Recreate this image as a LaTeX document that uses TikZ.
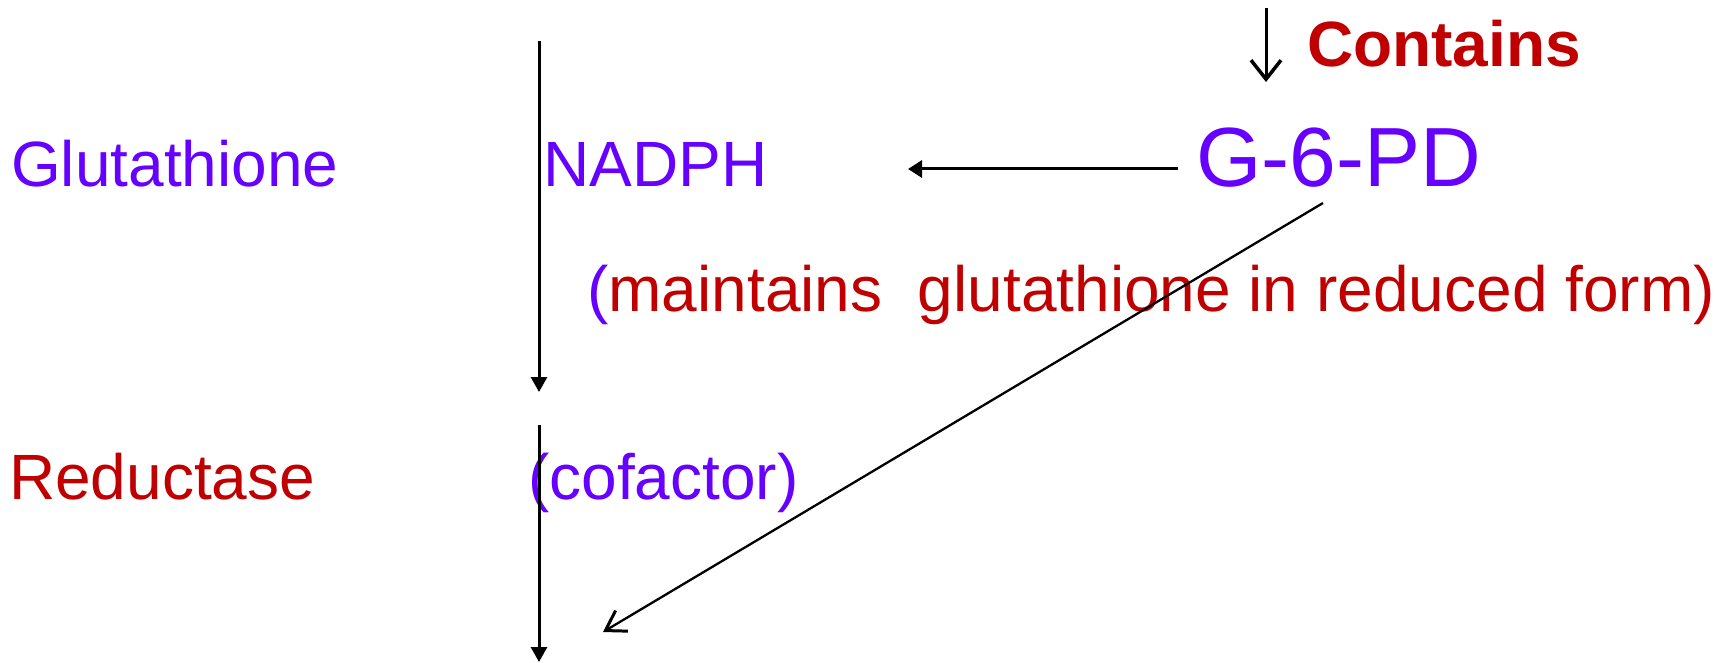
\documentclass[tikz,border=0pt]{standalone}
\usepackage{fontspec}
\setmainfont{Liberation Sans}
\usetikzlibrary{arrows.meta}
\definecolor{vio}{RGB}{102,0,255}
\definecolor{dred}{RGB}{192,0,0}
\tikzset{
  txt/.style={inner sep=0pt, anchor=base west, font=\fontsize{64}{70}\selectfont},
  big/.style={inner sep=0pt, anchor=base west, font=\fontsize{84}{90}\selectfont},
  vline/.style={line width=3pt, -{Triangle[width=16pt,length=15pt]}},
  hline/.style={line width=3pt, -{Triangle[width=17pt,length=14pt]}},
  dline/.style={line width=2.3pt, -{Straight Barb[width=24pt,length=19pt,line width=3pt]}},
  darrow/.style={line width=3pt, -{Straight Barb[width=30pt,length=19pt,line width=3.5pt]}}
}
\begin{document}
\begin{tikzpicture}[x=1pt,y=-1pt]
\path[use as bounding box] (0,0) rectangle (1726,663);
\node[txt, text=vio] (glut) at (11,187) {Glutathione};
\node[txt, text=vio] (nadph) at (543,187) {NADPH};
\node[big, text=vio] (g6pd) at (1196,187) {G-6-PD};
\node[txt] (maint) at (587,311) {\textcolor{vio}{(}\textcolor{dred}{maintains\ \ glutathione in reduced form)}};
\node[txt, text=dred] (reduct) at (9,499) {Reductase};
\node[txt, text=vio] (cofac) at (528,499) {(cofactor)};
\node[txt, text=dred, font=\fontsize{64}{70}\selectfont\bfseries] (contains) at (1307,67) {Contains};
% connectors
\coordinate (v1a) at (539,41);
\coordinate (v1b) at (539,392);
\coordinate (v2a) at (539,425);
\coordinate (v2b) at (539,662);
\coordinate (ha) at (1178,169);
\coordinate (hb) at (908,169);
\coordinate (da) at (1323,203);
\coordinate (db) at (603,632);
\coordinate (ca) at (1266,8);
\coordinate (cb) at (1266,82);
\draw[vline] (v1a) -- (v1b);
\draw[vline] (v2a) -- (v2b);
\draw[hline] (ha) -- (hb);
\draw[dline] (da) -- (db);
\draw[darrow] (ca) -- (cb);
\end{tikzpicture}
\end{document}
